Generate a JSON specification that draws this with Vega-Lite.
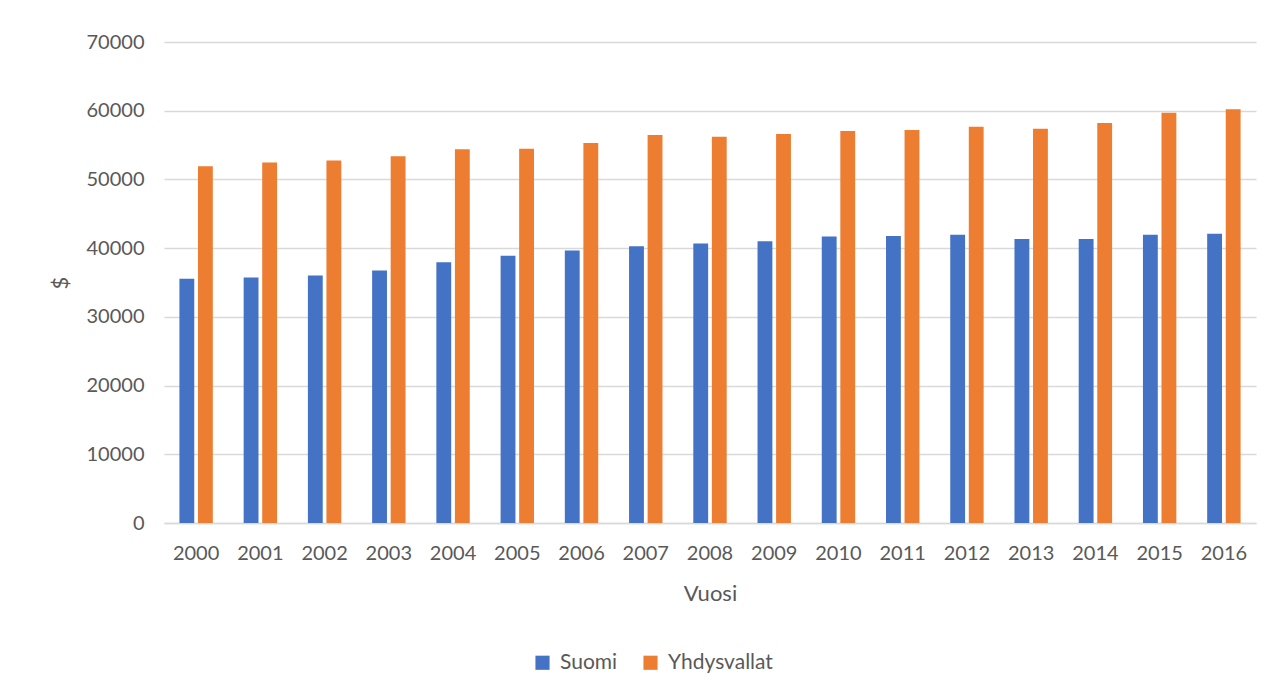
{
  "$schema": "https://vega.github.io/schema/vega-lite/v6.json",
  "width": 1092,
  "height": 481,
  "autosize": "none",
  "padding": {"left": 164, "top": 42, "right": 27, "bottom": 172},
  "background": "white",
  "config": {
    "font": "Lato",
    "view": {"stroke": null},
    "axis": {"labelColor": "#595959", "titleColor": "#595959", "labelFont": "Lato", "titleFont": "Lato", "labelFontSize": 20, "titleFontSize": 22, "titleFontWeight": "normal"},
    "legend": {"labelColor": "#595959", "labelFont": "Lato", "labelFontSize": 20}
  },
  "data": {
    "values": [
      {"vuosi": "2000", "maa": "Suomi", "arvo": 35530},
      {"vuosi": "2001", "maa": "Suomi", "arvo": 35720},
      {"vuosi": "2002", "maa": "Suomi", "arvo": 36010},
      {"vuosi": "2003", "maa": "Suomi", "arvo": 36740},
      {"vuosi": "2004", "maa": "Suomi", "arvo": 37960},
      {"vuosi": "2005", "maa": "Suomi", "arvo": 38890},
      {"vuosi": "2006", "maa": "Suomi", "arvo": 39660},
      {"vuosi": "2007", "maa": "Suomi", "arvo": 40290},
      {"vuosi": "2008", "maa": "Suomi", "arvo": 40690},
      {"vuosi": "2009", "maa": "Suomi", "arvo": 41020},
      {"vuosi": "2010", "maa": "Suomi", "arvo": 41710},
      {"vuosi": "2011", "maa": "Suomi", "arvo": 41760},
      {"vuosi": "2012", "maa": "Suomi", "arvo": 41950},
      {"vuosi": "2013", "maa": "Suomi", "arvo": 41320},
      {"vuosi": "2014", "maa": "Suomi", "arvo": 41320},
      {"vuosi": "2015", "maa": "Suomi", "arvo": 41950},
      {"vuosi": "2016", "maa": "Suomi", "arvo": 42100},
      {"vuosi": "2000", "maa": "Yhdysvallat", "arvo": 51900},
      {"vuosi": "2001", "maa": "Yhdysvallat", "arvo": 52480},
      {"vuosi": "2002", "maa": "Yhdysvallat", "arvo": 52770},
      {"vuosi": "2003", "maa": "Yhdysvallat", "arvo": 53360},
      {"vuosi": "2004", "maa": "Yhdysvallat", "arvo": 54380},
      {"vuosi": "2005", "maa": "Yhdysvallat", "arvo": 54470},
      {"vuosi": "2006", "maa": "Yhdysvallat", "arvo": 55300},
      {"vuosi": "2007", "maa": "Yhdysvallat", "arvo": 56470},
      {"vuosi": "2008", "maa": "Yhdysvallat", "arvo": 56220},
      {"vuosi": "2009", "maa": "Yhdysvallat", "arvo": 56610},
      {"vuosi": "2010", "maa": "Yhdysvallat", "arvo": 57050},
      {"vuosi": "2011", "maa": "Yhdysvallat", "arvo": 57200},
      {"vuosi": "2012", "maa": "Yhdysvallat", "arvo": 57680},
      {"vuosi": "2013", "maa": "Yhdysvallat", "arvo": 57390},
      {"vuosi": "2014", "maa": "Yhdysvallat", "arvo": 58220},
      {"vuosi": "2015", "maa": "Yhdysvallat", "arvo": 59720},
      {"vuosi": "2016", "maa": "Yhdysvallat", "arvo": 60220}
    ]
  },
  "mark": {"type": "bar"},
  "encoding": {
    "x": {
      "field": "vuosi", "type": "nominal",
      "scale": {"paddingInner": 0.48, "paddingOuter": 0.24},
      "axis": {"title": "Vuosi", "labelAngle": 0, "ticks": false, "labelPadding": 20, "titlePadding": 20, "domainColor": "#D9D9D9", "domainWidth": 1.5, "grid": false}
    },
    "xOffset": {"field": "maa", "type": "nominal", "scale": {"paddingInner": 0.2, "paddingOuter": 0}},
    "y": {
      "field": "arvo", "type": "quantitative",
      "scale": {"domain": [0, 70000], "nice": false},
      "axis": {"title": "$", "values": [0, 10000, 20000, 30000, 40000, 50000, 60000, 70000], "format": "d", "ticks": false, "domain": false, "labelPadding": 20, "titlePadding": 14, "gridColor": "#D9D9D9", "gridWidth": 1.5}
    },
    "color": {
      "field": "maa", "type": "nominal",
      "scale": {"domain": ["Suomi", "Yhdysvallat"], "range": ["#4472C4", "#ED7D31"]},
      "legend": {"title": null, "orient": "none", "legendX": 368, "legendY": 610, "direction": "horizontal", "symbolType": "square", "symbolSize": 200, "symbolStrokeWidth": 0, "columnPadding": 22, "labelOffset": 7, "labelFontSize": 21}
    }
  }
}
